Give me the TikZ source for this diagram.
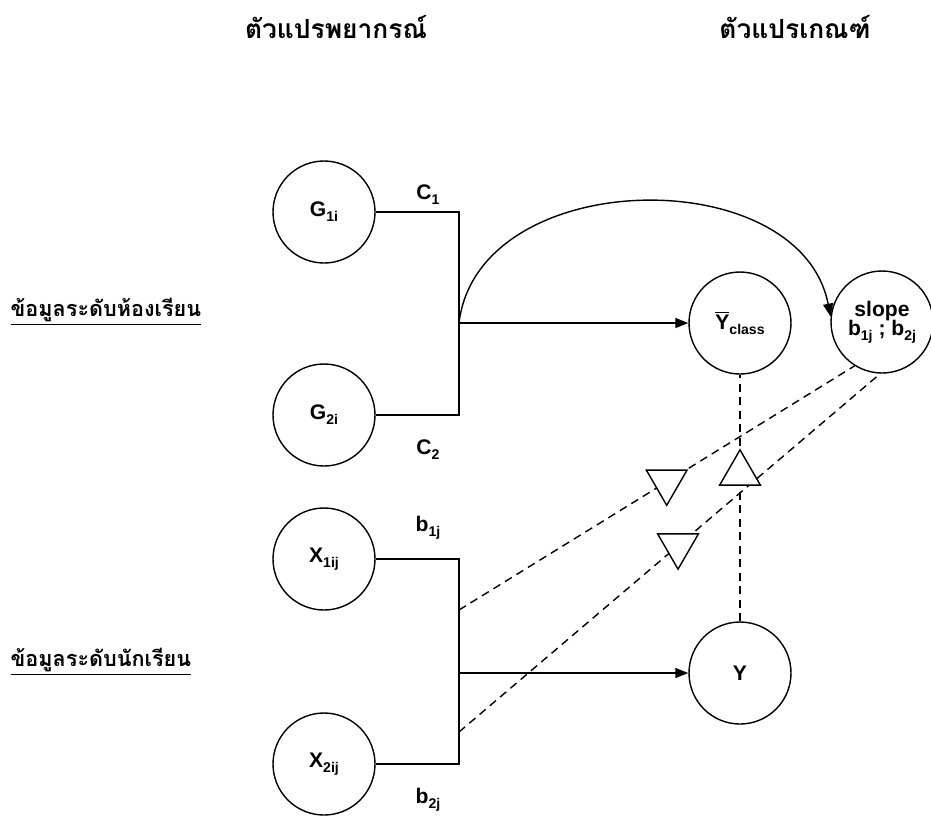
\documentclass[tikz,border=0pt]{standalone}
\usepackage{fontspec}
\setmainfont{Liberation Sans}
\newfontfamily\thaifont[Script=Thai]{Loma}
\usetikzlibrary{arrows.meta, shapes.geometric}
\newcommand{\lowidx}[1]{\raisebox{-0.45ex}{\fontsize{8}{9}\selectfont #1}}

\begin{document}
\begin{tikzpicture}[x=0.2mm, y=-0.2mm, line width=0.8pt,
  >={Triangle[length=2.6mm, width=2mm]},
  var/.style={circle, draw, minimum size=20.4mm, inner sep=0pt,
    font=\fontsize{12}{13}\selectfont\bfseries, align=center},
  coef/.style={font=\fontsize{12}{13}\selectfont\bfseries},
  thaitext/.style={font=\thaifont\fontsize{15}{18}\selectfont\bfseries},
  sidetext/.style={font=\thaifont\fontsize{12.3}{15}\selectfont\bfseries,
    anchor=west, inner sep=0pt},
  dashlink/.style={dash pattern=on 1.6mm off 1.1mm},
  marker/.style={regular polygon, regular polygon sides=3, draw, fill=white,
    minimum size=9.4mm, inner sep=0pt, solid}]

% Frame
\useasboundingbox (0,0) rectangle (931,816);

% Headings
\node[thaitext] (hpred) at (336,27) {ตัวแปรพยากรณ์};
\node[thaitext] (hcrit) at (795,27) {ตัวแปรเกณฑ์};
\node[sidetext] (lclass) at (10,312) {\underline{ข้อมูลระดับห้องเรียน}};
\node[sidetext] (lstud) at (10,662) {\underline{ข้อมูลระดับนักเรียน}};

% Predictors
\node[var] (g1) at (324,212) {G\lowidx{1i}};
\node[var] (g2) at (324,415) {G\lowidx{2i}};
\node[var] (x1) at (324,559) {X\lowidx{1ij}};
\node[var] (x2) at (324,764) {X\lowidx{2ij}};

% Criteria
\node[var] (ybar) at (740,323) {$\overline{\mbox{Y}}$\lowidx{class}};
\node[var] (slope) at (882,322) {slope\\[-2pt]b\lowidx{1j} ; b\lowidx{2j}};
\node[var] (y) at (740,673) {Y};

% Bracket points
\coordinate (gtop) at (459,212);
\coordinate (gbot) at (459,415);
\coordinate (gmid) at (459,323);
\coordinate (xtop) at (459,559);
\coordinate (xbot) at (459,764);
\coordinate (xmid) at (459,673);
\coordinate (xd1) at (459,610);
\coordinate (xd2) at (459,732);

% Class level
\draw (g1.east) -- (gtop) -- (gbot) -- (g2.east);
\draw[->] (gmid) -- (ybar.west);
\draw[->] (gmid) .. controls (478,165) and (800,160) .. (slope.174);
\node[coef] (c1) at (428,195) {C\lowidx{1}};
\node[coef] (c2) at (428,450) {C\lowidx{2}};

% Student level
\draw (x1.east) -- (xtop) -- (xbot) -- (x2.east);
\draw[->] (xmid) -- (y.west);
\node[coef] (b1) at (428,528) {b\lowidx{1j}};
\node[coef] (b2) at (428,800) {b\lowidx{2j}};

% Cross-level links
\draw[dashlink] (xd1) -- (slope.238) node[marker, pos=0.525, rotate=180] (m1) {};
\draw[dashlink] (xd2) -- (slope.268) node[marker, pos=0.52, rotate=180] (m2) {};
\draw[dashlink] (y.north) -- (ybar.south) node[marker, pos=0.6] (m3) {};

\end{tikzpicture}
\end{document}
